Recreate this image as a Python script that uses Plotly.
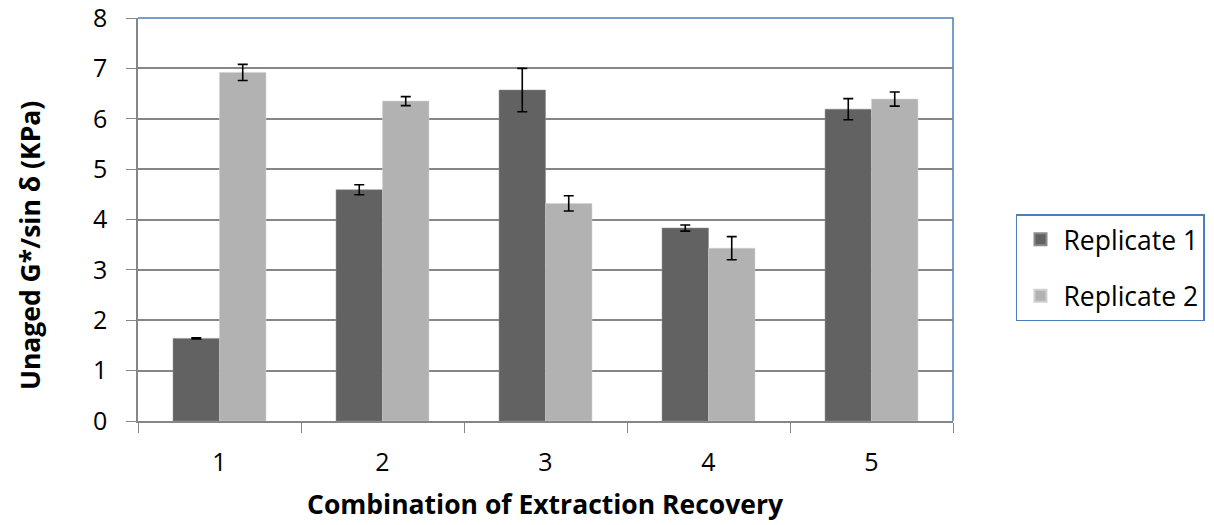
import plotly.graph_objects as go

categories = ["1", "2", "3", "4", "5"]
rep1 = [1.64, 4.59, 6.57, 3.83, 6.19]
rep1_err = [0.01, 0.10, 0.43, 0.06, 0.21]
rep2 = [6.92, 6.35, 4.32, 3.43, 6.39]
rep2_err = [0.16, 0.09, 0.15, 0.23, 0.14]

FONT = "Open Sans"
TICK = 25
TITLE = 26.5

fig = go.Figure()
fig.add_trace(go.Bar(
    x=categories, y=rep1, name="Replicate 1", legendgroup="a",
    marker=dict(color="#626262", line=dict(color="#8a8a8a", width=0.5)),
    error_y=dict(type="data", array=rep1_err, color="black", thickness=1.6, width=5),
))
fig.add_trace(go.Bar(
    x=categories, y=rep2, name="Replicate 2", legendgroup="b",
    marker=dict(color="#b2b2b2", line=dict(color="#d0d0d0", width=0.5)),
    error_y=dict(type="data", array=rep2_err, color="black", thickness=1.6, width=5),
))

fig.update_layout(
    width=1214, height=525,
    margin=dict(l=138, r=261, t=18, b=104, autoexpand=False),
    paper_bgcolor="white", plot_bgcolor="white",
    barmode="group", bargap=0.43, bargroupgap=0,
    font=dict(family=FONT, size=TICK, color="black"),
    showlegend=True,
    legend=dict(
        x=1.0773, y=0.5136, xanchor="left", yanchor="top",
        bordercolor="#4a7ebb", borderwidth=1.5,
        font=dict(family=FONT, size=26.5),
        itemsizing="constant", itemwidth=36, tracegroupgap=19, traceorder="grouped",
    ),
    shapes=[dict(type="path", xref="paper", yref="paper", path="M 0 1 L 1 1 L 1 0",
                 line=dict(color="#4a7ebb", width=1.5), layer="below")],
    annotations=[
        dict(text="<b>Combination of Extraction Recovery</b>", xref="paper", yref="paper",
             x=0.5, y=-0.206, xanchor="center", yanchor="middle", showarrow=False,
             font=dict(family=FONT, size=TITLE)),
        dict(text="<b>Unaged G*/sin δ (KPa)</b>", xref="paper", yref="paper",
             x=-0.1325, y=0.434, xanchor="center", yanchor="middle", showarrow=False,
             textangle=-90, font=dict(family=FONT, size=TITLE)),
    ],
)
fig.update_xaxes(
    type="category", tickson="boundaries", ticks="outside", ticklen=10,
    tickcolor="#868686", showline=True, linecolor="#868686", linewidth=1.5,
    showgrid=False, tickfont=dict(size=TICK), automargin=False, ticklabelstandoff=18,
    ticklabeloverflow="allow",
)
fig.update_yaxes(
    range=[0, 8], dtick=1, ticks="outside", ticklen=10, tickcolor="#868686",
    showline=True, linecolor="#868686", linewidth=1.5,
    showgrid=True, gridcolor="#868686", gridwidth=1.5, zeroline=False,
    tickfont=dict(size=TICK), automargin=False, ticklabelstandoff=14,
    ticklabeloverflow="allow",
)

fig.write_html("out.html", config={"displayModeBar": False},
               post_script="document.body.style.margin='0';")
